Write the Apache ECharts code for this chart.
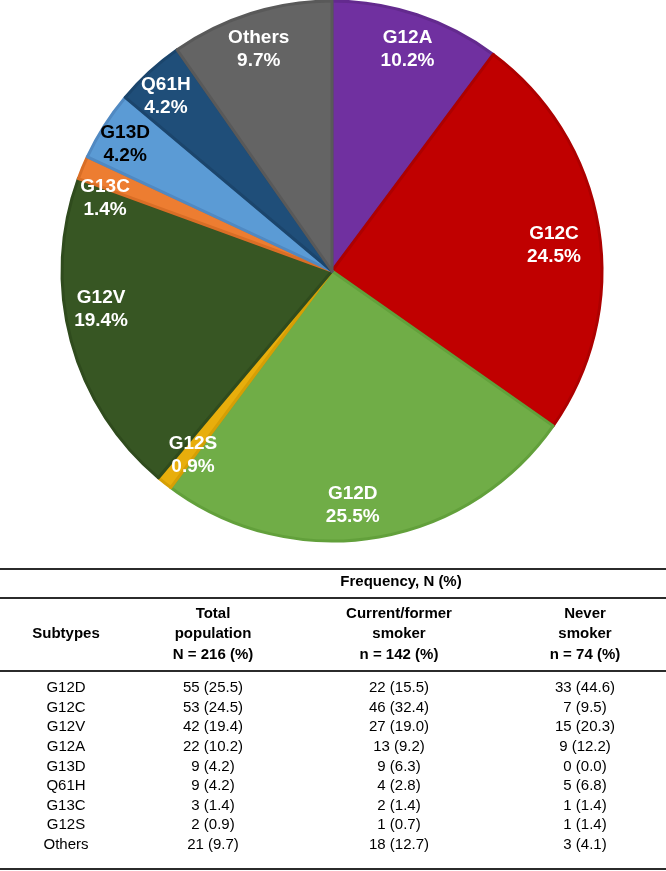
<!DOCTYPE html>
<html><head><meta charset="utf-8">
<script src="https://cdn.jsdelivr.net/npm/echarts@6/dist/echarts.min.js"></script>
<style>html,body{margin:0;padding:0;background:#fff}#c{width:666px;height:871px}</style>
</head><body><div id="c"></div>
<script>
// Table data (rows in table order)
const subtypes = ['G12D','G12C','G12V','G12A','G13D','Q61H','G13C','G12S','Others'];
const totalN = [55,53,42,22,9,9,3,2,21];
const totalPct = ['25.5','24.5','19.4','10.2','4.2','4.2','1.4','0.9','9.7'];
const smokerN = [22,46,27,13,9,4,2,1,18];
const smokerPct = ['15.5','32.4','19.0','9.2','6.3','2.8','1.4','0.7','12.7'];
const neverN = [33,7,15,9,0,5,1,1,3];
const neverPct = ['44.6','9.5','20.3','12.2','0.0','6.8','1.4','1.4','4.1'];
const headerTop = 'Frequency, N (%)';
const colHeaders = [['Subtypes'],['Total','population','N = 216 (%)'],['Current/former','smoker','n = 142 (%)'],['Never','smoker','n = 74 (%)']];
// Pie order (clockwise from 12 o'clock)
const pieOrder = ['G12A','G12C','G12D','G12S','G12V','G13C','G13D','Q61H','Others'];

const colors = {G12A:'#7030A0',G12C:'#C00000',G12D:'#70AD47',G12S:'#E8AE0C',G12V:'#375623',G13C:'#ED7D31',G13D:'#5B9BD5',Q61H:'#1F4E79',Others:'#646464'};
const borders = {G12A:'#632A8E',G12C:'#AD0000',G12D:'#62A03B',G12S:'#D69F05',G12V:'#2F4B1D',G13C:'#D96E26',G13D:'#5089C2',Q61H:'#1B456C',Others:'#595959'};
const labelOffsets = {G12A:[1,3],G12C:[-12,12],G12D:[-17,0],G12S:[8,-2],G12V:[-2,-23],G13C:[-8,18],G13D:[-7,1],Q61H:[-6,0],Others:[-2,4]};
const labelColors = {G13D:'#000000'};

const pieData = pieOrder.map(k => {
  const i = subtypes.indexOf(k);
  return {name:k, value: totalN[i],
    itemStyle:{color:colors[k], borderColor:borders[k], borderWidth:3}};
});
const labelData = pieOrder.map(k => {
  const i = subtypes.indexOf(k);
  return {name:k, value: totalN[i],
    itemStyle:{color:'transparent', borderWidth:0},
    label:{offset:labelOffsets[k], color:labelColors[k]||'#ffffff'}};
});

const cx = 332, cy = 271, R = 271;
const font = '"Liberation Sans", Arial, sans-serif';

const graphics = [];
function line(y, w){ graphics.push({type:'line', shape:{x1:0,y1:y,x2:666,y2:y}, style:{stroke:'#2b2b2b', lineWidth:w||2}, silent:true}); }
function txt(s, x, y, bold){ graphics.push({type:'text', x:x, y:y, style:{text:s, x:0, y:0, align:'center', verticalAlign:'middle', font:(bold?'bold ':'')+'15px '+font, fill:'#000'}, silent:true}); }

const colX = [66, 213, 399, 585];
line(569); line(598); line(671); line(869);
txt(headerTop, 401, 582, true);
colHeaders.forEach((h, c) => {
  const n = h.length;
  h.forEach((s, j) => txt(s, colX[c], 634 + (j - (n-1)/2) * 20.5, true));
});
subtypes.forEach((s, i) => {
  const y = 688 + i * 19.6;
  txt(s, colX[0], y);
  txt(totalN[i] + ' (' + totalPct[i] + ')', colX[1], y);
  txt(smokerN[i] + ' (' + smokerPct[i] + ')', colX[2], y);
  txt(neverN[i] + ' (' + neverPct[i] + ')', colX[3], y);
});

const chart = echarts.init(document.getElementById('c'), null, {renderer:'canvas'});
chart.setOption({
  animation:false,
  series:[
    {type:'pie', center:[cx,cy], radius:[0,R-1], startAngle:90, clockwise:true, silent:true,
     label:{show:false}, labelLine:{show:false}, data:pieData},
    {type:'pie', center:[cx,cy], radius:[196,272], startAngle:90, clockwise:true, silent:true, z:5,
     label:{show:true, position:'inside', fontFamily:font, fontWeight:'bold', fontSize:19, lineHeight:23,
       formatter: p => { const i = subtypes.indexOf(p.name); return p.name + '\n' + totalPct[i] + '%'; }},
     labelLine:{show:false}, data:labelData}
  ],
  graphic: graphics
});
</script></body></html>
